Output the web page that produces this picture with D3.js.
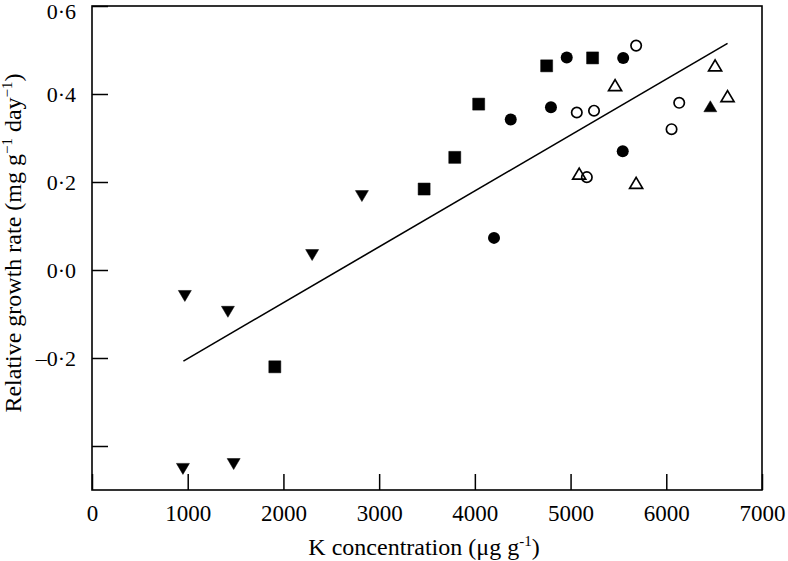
<!DOCTYPE html>
<html>
<head>
<meta charset="utf-8">
<script src="https://cdn.jsdelivr.net/npm/d3@7"></script>
<style>
  body { margin: 0; background: #fff; }
  text { font-family: "Liberation Serif", "Times New Roman", serif; fill: #000; }
</style>
</head>
<body>
<div id="chart"></div>
<script>
// tick values and labels
const xTicks = [0, 1000, 2000, 3000, 4000, 5000, 6000, 7000];
const xTickLabels = ["0", "1000", "2000", "3000", "4000", "5000", "6000", "7000"];
const yTicks = [0.6, 0.4, 0.2, 0, -0.2, -0.4];
const yTickLabels = ["0·6", "0·4", "0·2", "0·0", "–0·2", ""];

// series
const invTriX = [970, 1420, 2300, 2820, 950, 1480];
const invTriY = [-0.059, -0.095, 0.034, 0.168, -0.452, -0.441];
const squareX = [1910, 3470, 3790, 4040, 4750, 5230];
const squareY = [-0.220, 0.184, 0.256, 0.377, 0.464, 0.482];
const dotX = [4200, 4375, 4795, 4960, 5545, 5550];
const dotY = [0.073, 0.342, 0.370, 0.483, 0.270, 0.482];
const ringX = [5170, 5065, 5245, 5685, 6055, 6135];
const ringY = [0.211, 0.358, 0.362, 0.510, 0.320, 0.380];
const openTriX = [5090, 5465, 5685, 6510, 6640];
const openTriY = [0.218, 0.419, 0.197, 0.464, 0.394];
const fillTriX = [6460];
const fillTriY = [0.371];
const fitX = [955, 6640];
const fitY = [-0.207, 0.515];

var svgWidth = 788, svgHeight = 561;
var margin = { top: 6, right: 26, bottom: 71, left: 92 },
    width = svgWidth - margin.left - margin.right,
    height = svgHeight - margin.top - margin.bottom;

var svg = d3.select("#chart").append("svg")
    .attr("width", svgWidth)
    .attr("height", svgHeight);

var g = svg.append("g")
    .attr("transform", `translate(${margin.left}, ${margin.top})`);

var x = d3.scaleLinear().domain([0, 7000]).range([0, width]);
var y = d3.scaleLinear().domain([-0.5, 0.6]).range([height, 0]);

// x axis, ticks pointing inward
var xAxis = g.append("g")
    .attr("transform", `translate(0, ${height})`)
    .call(d3.axisBottom(x).tickValues(xTicks)
        .tickFormat((d, i) => xTickLabels[i])
        .tickSize(-16).tickSizeOuter(0).tickPadding(15));
xAxis.select(".domain").remove();
xAxis.selectAll("line").attr("stroke", "#000").attr("stroke-width", 1.5);
xAxis.selectAll("text").style("font-size", "23px")
    .style("font-family", "'Liberation Serif', serif");

// y axis
var yAxis = g.append("g")
    .call(d3.axisLeft(y).tickValues(yTicks)
        .tickFormat((d, i) => yTickLabels[i])
        .tickSize(-16).tickSizeOuter(0).tickPadding(16));
yAxis.select(".domain").remove();
yAxis.selectAll("line").attr("stroke", "#000").attr("stroke-width", 1.5);
yAxis.selectAll("text").style("font-size", "22px")
    .style("font-family", "'Liberation Serif', serif");
// top label sits a little lower so it stays inside the page
yAxis.selectAll("text").filter(d => d === 0.6).attr("dy", "0.55em");

// frame
g.append("rect")
    .attr("x", 0).attr("y", 0)
    .attr("width", width).attr("height", height)
    .attr("fill", "none").attr("stroke", "#000").attr("stroke-width", 1.6);

// fitted line
g.append("path")
    .datum(fitX.map((v, i) => [v, fitY[i]]))
    .attr("d", d3.line().x(d => x(d[0])).y(d => y(d[1])))
    .attr("fill", "none").attr("stroke", "#000").attr("stroke-width", 1.6);

// marker shapes
var shapes = {
  invTri: "M-6.5,-5.5L6.5,-5.5L0,5.5Z",
  upTri: "M0,-6L6.5,5L-6.5,5Z",
  square: "M-6,-6L6,-6L6,6L-6,6Z"
};

function drawPath(xs, ys, shape, filled) {
  g.append("g").selectAll("path")
    .data(xs.map((v, i) => [v, ys[i]]))
    .enter().append("path")
      .attr("transform", d => `translate(${x(d[0])}, ${y(d[1])})`)
      .attr("d", shape)
      .attr("fill", filled ? "#000" : "none")
      .attr("stroke", "#000")
      .attr("stroke-width", filled ? 0.5 : 1.7)
      .attr("stroke-linejoin", "miter");
}

function drawCircles(xs, ys, filled) {
  g.append("g").selectAll("circle")
    .data(xs.map((v, i) => [v, ys[i]]))
    .enter().append("circle")
      .attr("cx", d => x(d[0]))
      .attr("cy", d => y(d[1]))
      .attr("r", filled ? 6 : 5.2)
      .attr("fill", filled ? "#000" : "none")
      .attr("stroke", "#000")
      .attr("stroke-width", filled ? 0 : 1.7);
}

drawPath(invTriX, invTriY, shapes.invTri, true);
drawPath(squareX, squareY, shapes.square, true);
drawCircles(dotX, dotY, true);
drawCircles(ringX, ringY, false);
drawPath(openTriX, openTriY, shapes.upTri, false);
drawPath(fillTriX, fillTriY, shapes.upTri, true);

// axis titles
var xTitle = svg.append("text")
    .attr("x", margin.left + width / 2 - 3)
    .attr("y", 555)
    .attr("text-anchor", "middle")
    .style("font-size", "24px");
xTitle.append("tspan").text("K concentration (μg g");
xTitle.append("tspan").attr("dy", -9).style("font-size", "15px").text("-1");
xTitle.append("tspan").attr("dy", 9).text(")");

var yTitle = svg.append("text")
    .attr("transform", "translate(21, 243) rotate(-90)")
    .attr("text-anchor", "middle")
    .style("font-size", "24px");
yTitle.append("tspan").text("Relative growth rate (mg g");
yTitle.append("tspan").attr("dy", -9).style("font-size", "15px").text("−1");
yTitle.append("tspan").attr("dy", 9).text(" day");
yTitle.append("tspan").attr("dy", -9).style("font-size", "15px").text("−1");
yTitle.append("tspan").attr("dy", 9).text(")");
</script>
</body>
</html>
